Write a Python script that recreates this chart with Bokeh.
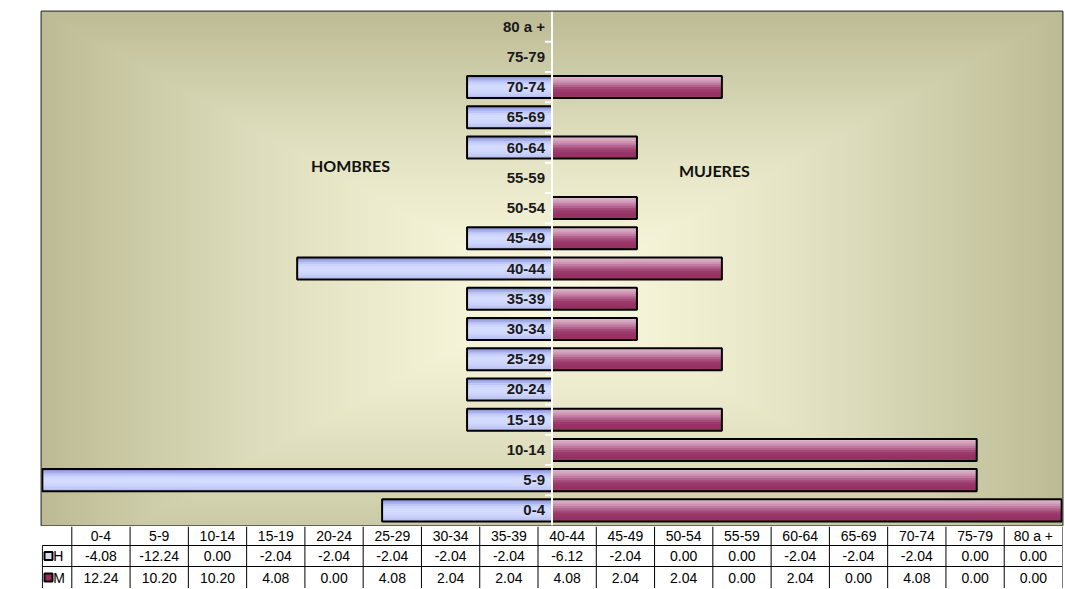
import numpy as np
from bokeh.plotting import figure
from bokeh.layouts import column
from bokeh.models import Range1d, ColumnDataSource, Span
from bokeh.core.properties import value
from bokeh.embed import file_html
from bokeh.resources import INLINE

# ---------------- data ----------------
groups = ["0-4", "5-9", "10-14", "15-19", "20-24", "25-29", "30-34", "35-39",
          "40-44", "45-49", "50-54", "55-59", "60-64", "65-69", "70-74",
          "75-79", "80 a +"]
hombres = [-4.08, -12.24, 0.00, -2.04, -2.04, -2.04, -2.04, -2.04, -6.12,
           -2.04, 0.00, 0.00, -2.04, -2.04, -2.04, 0.00, 0.00]
mujeres = [12.24, 10.20, 10.20, 4.08, 0.00, 4.08, 2.04, 2.04, 4.08, 2.04,
           2.04, 0.00, 2.04, 0.00, 4.08, 0.00, 0.00]
series_names = ["H", "M"]
side_labels = ["HOMBRES", "MUJERES"]

N = len(groups)
idx = list(range(N))
XMAX = 12.26

# ---------------- chart ----------------
p = figure(width=1065, height=526, x_range=Range1d(-XMAX, XMAX),
           y_range=Range1d(-0.5, N - 0.5), x_axis_type=None, y_axis_type=None,
           toolbar_location=None, output_backend="svg",
           min_border_left=41, min_border_right=3, min_border_top=11,
           min_border_bottom=1)
p.grid.visible = False
p.outline_line_color = "#404040"
p.outline_line_width = 2
p.background_fill_color = "#d8d7b4"
p.border_fill_color = "white"

# background rectangular-path gradient
ny, nx = 170, 490
yy, xx = np.mgrid[0:ny, 0:nx]
fx = (xx + 0.5) / nx
fy = (yy + 0.5) / ny
cx, cy = 0.5, 0.45
dx = np.abs(fx - cx) / max(cx, 1 - cx)
dy = np.abs(fy - cy) / max(cy, 1 - cy)
d = np.clip(np.maximum(dx, dy), 0, 1) ** 1.4
c_in = np.array([250, 249, 222], dtype=float)
c_out = np.array([188, 187, 148], dtype=float)
img = np.empty((ny, nx), dtype=np.uint32)
view = img.view(dtype=np.uint8).reshape((ny, nx, 4))
for k in range(3):
    view[..., k] = (c_in[k] * (1 - d) + c_out[k] * d).astype(np.uint8)
view[..., 3] = 255
p.image_rgba(image=[img], x=-XMAX, y=-0.5, dw=2 * XMAX, dh=N, level="image")

BH = 0.73


def striped_bars(vals, colors):
    ys = [i for i in idx if vals[i] != 0]
    vs = [vals[i] for i in idx if vals[i] != 0]
    K = len(colors)
    sh = BH / K
    for j, col in enumerate(colors):
        # each layer covers from its strip top down to the bar bottom (no seams)
        hgt = BH - j * sh
        src = ColumnDataSource(dict(y=[y - BH / 2 + hgt / 2 for y in ys], v=vs))
        p.hbar(y="y", left=0, right="v", height=hgt, source=src,
               fill_color=col, line_color=None)
    src = ColumnDataSource(dict(y=ys, v=vs))
    p.hbar(y="y", left=0, right="v", height=BH, source=src,
           fill_color=None, line_color="black", line_width=2)


h_colors = ["#8890d6", "#a6aee8", "#bec6f6", "#ccd4fd", "#d3dbff", "#d3dbff",
            "#d0d8ff", "#cbd3fb", "#c2caf5", "#b6bef0"]
m_colors = ["#dcb3c9", "#d6a6bf", "#cd93b2", "#c07ca0", "#b2628c", "#a54b79",
            "#9d3c6c", "#983466", "#953263", "#96355f"]
striped_bars(hombres, h_colors)
striped_bars(mujeres, m_colors)

# central white axis line and ticks
p.add_layout(Span(location=0, dimension="height", line_color="white", line_width=2))
p.segment(x0=[-0.17] * (N - 1), x1=[0] * (N - 1),
          y0=[i + 0.5 for i in range(N - 1)], y1=[i + 0.5 for i in range(N - 1)],
          line_color="white", line_width=2)

# category labels
p.text(x=[0] * N, y=idx, text=groups, x_offset=-7, text_align="right",
       text_baseline="middle", text_font=value("Liberation Sans"), text_font_style="bold",
       text_font_size="15px", text_color="#1a1a1a")

# side labels
p.text(x=[-4.84, 3.9], y=[11.42, 11.25], text=side_labels, text_align="center",
       text_baseline="middle", text_font=value("Lato"), text_font_style="bold",
       text_font_size="16px", text_color="#111111")

# ---------------- data table ----------------
LW = 0.505
TH = 62
t = figure(width=1065, height=TH, x_range=Range1d(-0.52, N), y_range=Range1d(0, TH),
           x_axis_type=None, y_axis_type=None, toolbar_location=None,
           output_backend="svg", min_border_left=10, min_border_right=3,
           min_border_top=0, min_border_bottom=0)
t.grid.visible = False
t.outline_line_color = None
t.background_fill_color = "white"
t.border_fill_color = "white"

y_head, y_h, y_m = 52.5, 32.5, 11
r1, r2 = 43, 22
# grid lines
t.segment(x0=list(range(N + 1)), x1=list(range(N + 1)), y0=[0] * (N + 1), y1=[TH] * (N + 1),
          line_color="black", line_width=1)
t.segment(x0=[-LW], x1=[-LW], y0=[0], y1=[r1], line_color="black", line_width=1)
t.segment(x0=[-LW, -LW], x1=[N, N], y0=[r1, r2], y1=[r1, r2],
          line_color="black", line_width=1)

cx_cols = [i + 0.5 for i in idx]
TFONT = "Liberation Sans"
t.text(x=cx_cols, y=[y_head] * N, text=groups, text_align="center", text_baseline="middle",
       text_font=value(TFONT), text_font_size="14px", text_color="black")
t.text(x=cx_cols, y=[y_h] * N, text=["%.2f" % v for v in hombres], text_align="center",
       text_baseline="middle", text_font=value(TFONT), text_font_size="14px", text_color="black")
t.text(x=cx_cols, y=[y_m] * N, text=["%.2f" % v for v in mujeres], text_align="center",
       text_baseline="middle", text_font=value(TFONT), text_font_size="14px", text_color="black")

# legend keys
t.scatter(x=[-0.40, -0.40], y=[y_h, y_m], marker="square", size=8,
          fill_color=["#d8dcf0", "#9a2c5e"], line_color="black", line_width=2)
t.text(x=[-0.32, -0.32], y=[y_h, y_m], text=series_names, text_align="left",
       text_baseline="middle", text_font=value(TFONT), text_font_size="14px", text_color="black")

layout = column(p, t, spacing=0)
open("out.html", "w").write(file_html(layout, INLINE))
